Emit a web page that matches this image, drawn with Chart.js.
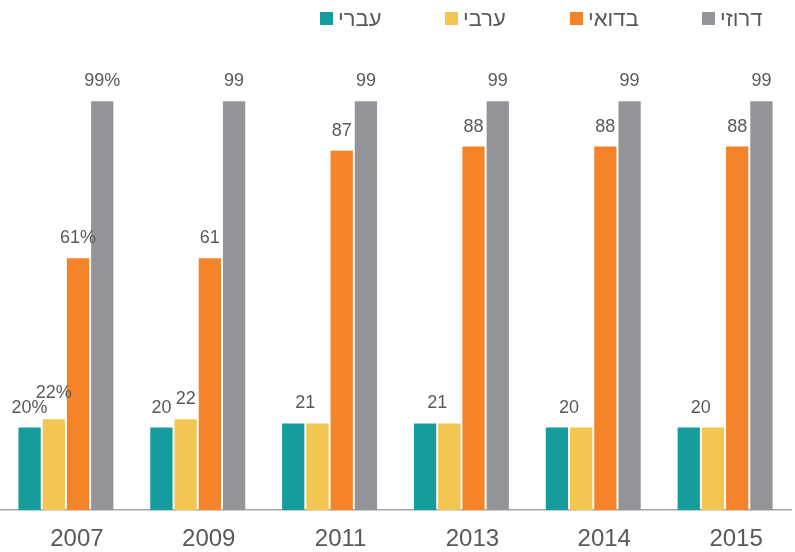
<!DOCTYPE html>
<html>
<head>
<meta charset="utf-8">
<script src="https://cdn.jsdelivr.net/npm/chart.js@4"></script>
<style>
  html, body { margin: 0; padding: 0; background: #fff; }
  #wrap { position: relative; width: 795px; height: 552px; }
  .legend-item {
    position: absolute; top: 7px; height: 23px;
    display: flex; align-items: center;
    font-family: 'Liberation Sans', Arial, sans-serif; font-size: 22px; color: #595959;
  }
  .legend-item span.box { width: 13px; height: 13px; margin-right: 5px; display: inline-block; }
</style>
</head>
<body>
<div id="wrap">
  <canvas id="chart" width="795" height="552"></canvas>
</div>
<script>
// Data
const years = ['2007', '2009', '2011', '2013', '2014', '2015'];
const seriesNames = ['עברי', 'ערבי', 'בדואי', 'דרוזי'];
const hebrewVals = [20, 20, 21, 21, 20, 20];
const arabVals = [22, 22, 21, 21, 20, 20];
const bedouinVals = [61, 61, 87, 88, 88, 88];
const druzeVals = [99, 99, 99, 99, 99, 99];
const hebrewLabels = ['20%', '20', '21', '21', '20', '20'];
const arabLabels = ['22%', '22', '', '', '', ''];
const bedouinLabels = ['61%', '61', '87', '88', '88', '88'];
const druzeLabels = ['99%', '99', '99', '99', '99', '99'];

const colors = ['#179c9d', '#f2c651', '#f4832a', '#939598'];
const textColor = '#595959';
const allLabels = [hebrewLabels, arabLabels, bedouinLabels, druzeLabels];

// HTML legend (placed like the original, to the right)
const legendX = [320, 445, 570, 702];
const wrap = document.getElementById('wrap');
seriesNames.forEach((name, i) => {
    const item = document.createElement('div');
    item.className = 'legend-item';
    item.style.left = legendX[i] + 'px';
    item.innerHTML = '<span class="box" style="background:' + colors[i] + '"></span><span dir="rtl">' + name + '</span>';
    wrap.appendChild(item);
});

// value labels above bars
const barLabels = {
    id: 'barLabels',
    afterDatasetsDraw(chart) {
        const ctx = chart.ctx;
        const h = 13; // digit height at 18px
        ctx.save();
        ctx.font = "18px 'Liberation Sans', Arial, sans-serif";
        ctx.fillStyle = textColor;
        ctx.textAlign = 'center';
        ctx.textBaseline = 'alphabetic';
        chart.data.labels.forEach((cat, i) => {
            const placed = [];
            chart.data.datasets.forEach((ds, di) => {
                const bar = chart.getDatasetMeta(di).data[i];
                const txt = allLabels[di][i];
                if (!txt) return;
                let x = bar.x;
                // teal label sits over the teal/yellow pair when yellow has none
                if (di === 0 && !arabLabels[i] && hebrewVals[i] === arabVals[i]) {
                    x = (bar.x + chart.getDatasetMeta(1).data[i].x) / 2;
                }
                let y = bar.y - 15;
                const w = ctx.measureText(txt).width;
                // lift a label that would collide with its neighbour
                placed.forEach(p => {
                    if (Math.abs(p.x - x) < (p.w + w) / 2 && y > p.y - h - 2 && y - h < p.y) {
                        y = p.y - h - 2;
                    }
                });
                placed.push({ x, y, w });
                ctx.fillText(txt, x, y);
            });
        });
        ctx.restore();
    }
};

const datasets = [hebrewVals, arabVals, bedouinVals, druzeVals].map((vals, i) => ({
    label: seriesNames[i],
    data: vals,
    backgroundColor: colors[i],
    borderWidth: 0,
    barPercentage: 0.92,
    categoryPercentage: 0.735
}));

new Chart(document.getElementById('chart'), {
    type: 'bar',
    data: { labels: years, datasets: datasets },
    options: {
        responsive: false,
        animation: false,
        layout: { padding: { top: 97, left: -1, right: 4, bottom: -9 } },
        plugins: {
            legend: { display: false },
            tooltip: { enabled: false }
        },
        scales: {
            x: {
                grid: { display: false },
                border: { display: true, color: '#a6a6a6', width: 1.5 },
                ticks: {
                    color: textColor,
                    padding: 7,
                    labelOffset: 11,
                    font: { family: "'Liberation Sans', Arial, sans-serif", size: 24 }
                }
            },
            y: {
                display: false,
                min: 0,
                max: 100
            }
        }
    },
    plugins: [barLabels]
});
</script>
</body>
</html>
